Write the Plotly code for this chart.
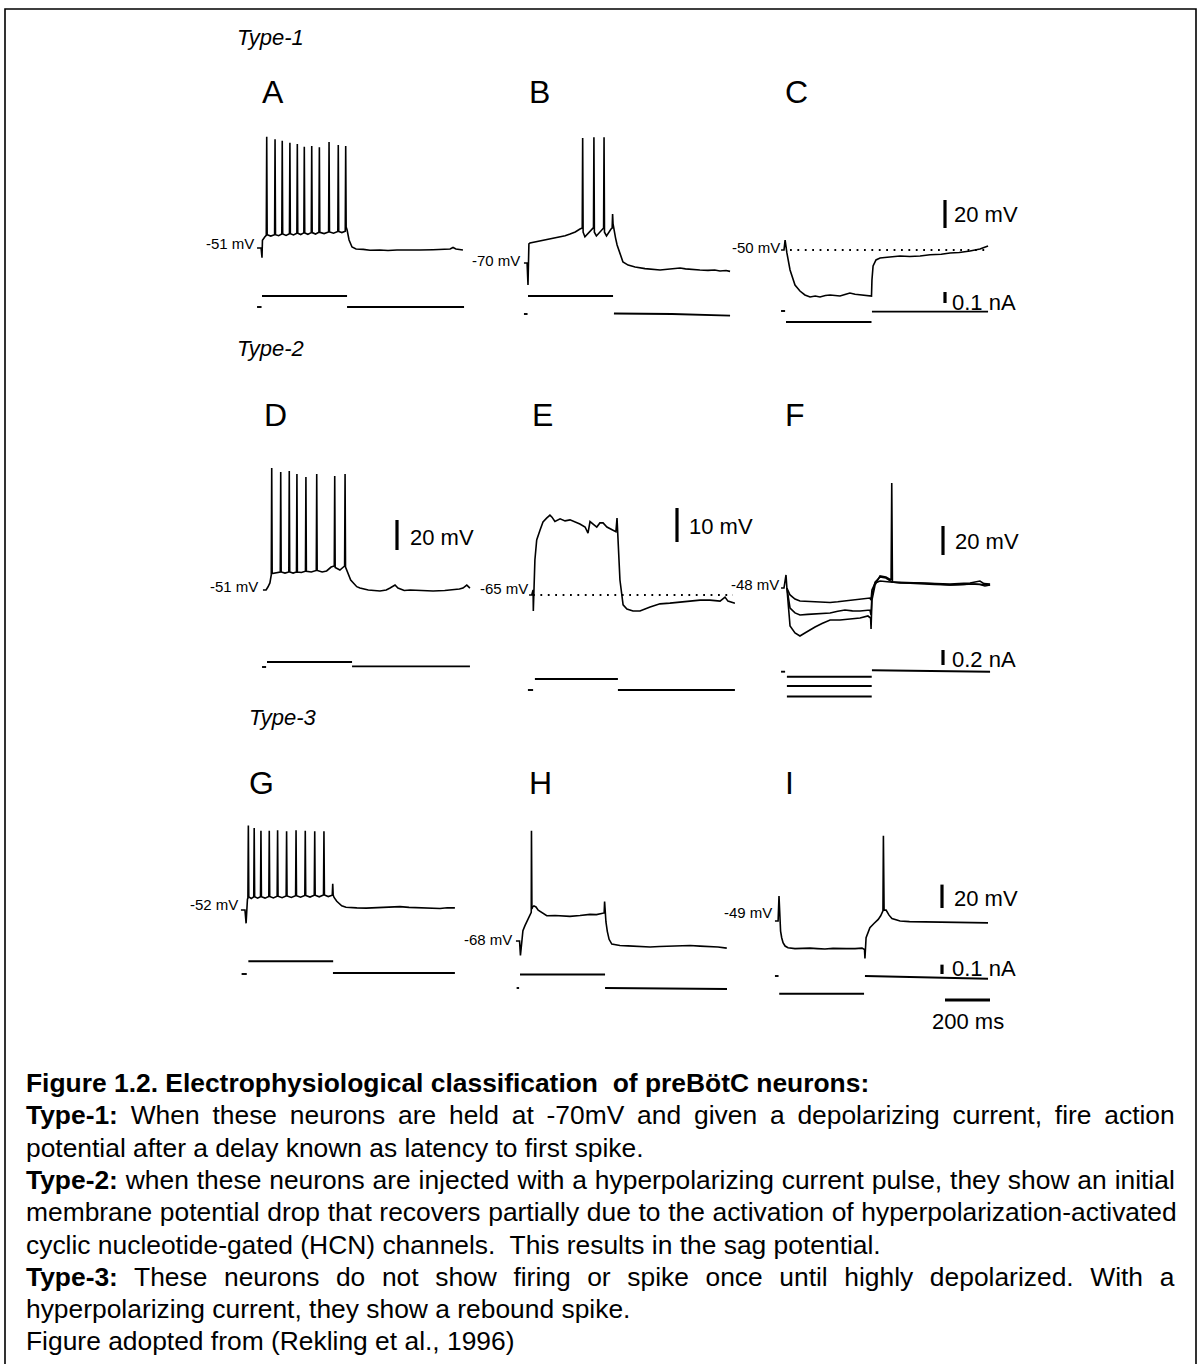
import plotly.graph_objects as go

W, H = 1198, 1364

# ---------------- data (time in ms, membrane potential in mV, current in nA) ----------------
A_trace = [(-22,-51),(-4,-51),(0,-58),(2,-45.5),(13,-43),
 (19,-42),(21,28.5),(23,-41.5),(39,-42.5),
 (56,-41.5),(58,26.6),(60,-41.5),(74,-42.2),
 (88,-41),(90,25.6),(92,-41),(107,-42),
 (122,-40.8),(124,24.2),(126,-40.8),(140,-41.7),
 (155,-40.5),(157,23.3),(159,-40.5),(172,-41.4),
 (186,-40.2),(188,21.4),(190,-40.2),(204,-41.2),
 (219,-40),(221,21.9),(223,-40),(238,-41),
 (253,-39.8),(255,21),(257,-39.8),(276,-40.7),
 (296,-39.5),(298,24.7),(300,-39.5),(318,-40.4),
 (337,-39.2),(339,22.6),(341,-39.2),(355,-40),
 (370,-39),(372,21.9),(374,-36),(378,-38),(387,-45.3),(400,-50.3),(418,-51.7),
 (450,-52),(480,-52.6),(524,-52.4),(560,-52.8),(600,-52.4),(650,-52.6),(702,-52.4),
 (760,-52.2),(800,-52),(836,-51.7),(849,-50.6),(862,-51.7),(893,-52.4)]
A_cur = [(-22,0),(-2,0),None,(0,0.1),(378,0.1),None,(378,0),(898,0)]

B_trace = [(-18,-70),(-4,-70),(0,-85.7),(4,-56.4),(9,-55.7),(31,-55),(55,-54.5),(76,-53.6),(100,-53),
 (120,-52.3),(142,-51.4),(165,-50.5),(187,-49.3),(210,-47.8),(231,-45.7),(241,-45),(243,19.3),(245,-48),
 (253,-51.2),(270,-48),(284,-45.5),(291,-44.7),(293,19.8),(295,-48),(304,-50.7),(320,-47.5),(333,-45.7),
 (336,-45),(338,19.8),(340,-48),(349,-50.7),(360,-47.5),(369,-45.7),(374,-45),(376,-35),(378,-42),
 (382,-47.1),(389,-52),(396,-57.1),(409,-64),(422,-69.3),(445,-71.5),(476,-72.9),(520,-74),(560,-74.3),
 (587,-75),(620,-74.5),(650,-73.8),(676,-73.6),(700,-74.2),(730,-74.8),(764,-75),(800,-75.3),(830,-75),
 (853,-75.7),(880,-75.4),(898,-76)]
B_cur = [(-18,0),(-2,0),None,(0,0.164),(378,0.164),None,(382,0.005),(640,0),(898,-0.015)]

C_trace = [(-22,-50),(-9,-50),(-4,-42.9),(0,-48.6),(4,-52.1),(18,-64.3),(40,-75),(62,-79.3),(84,-82.1),
 (107,-83.6),(130,-82.9),(151,-83.6),(175,-82.5),(196,-82.1),(218,-82.6),(240,-82.9),(262,-81.8),
 (284,-80.7),(307,-81.6),(329,-82.1),(350,-82.5),(373,-83.2),(380,-82.9),(382,-71.4),(387,-61.4),
 (400,-57.1),(418,-55.7),(450,-55.2),(507,-54.3),(550,-54.6),(596,-54.3),(640,-53.4),(690,-53),
 (729,-52.1),(770,-51.8),(818,-50.7),(862,-49.3),(898,-47.1)]
C_cur = [(-22,0),(-4,0),None,(0,-0.1),(380,-0.1),None,(382,-0.006),(898,-0.006)]

D_trace = [(-18,-51),(-4,-51),(4,-49),(13,-46.3),(19,-41),(21,30.3),(23,-40),(41,-39.7),(59,-39),
 (61,27.7),(63,-39),(80,-39.7),(97,-39),(99,28.3),(101,-39),(116,-39.7),(131,-39),(133,26.3),(135,-39),
 (153,-39.3),(171,-38.5),(173,24.3),(175,-38.5),(197,-39),(219,-38),(221,26.3),(223,-38),(245,-39),
 (265,-38.3),(285,-35.7),(299,-35),(301,25),(303,-36),(324,-37.7),(345,-35),(347,26.3),(349,-35.7),
 (372,-44.3),(399,-48.8),(413,-49.7),(450,-51),(502,-51.7),(530,-51),(547,-49.7),(569,-47.7),
 (582,-49.7),(610,-51.3),(636,-51),(680,-51.5),(738,-51.7),(790,-51.3),(827,-51),(855,-50.3),
 (871,-49.7),(888,-47.7),(902,-49.7)]
D_cur = [(-22,0),(-4,0),None,(0,0.045),(378,0.045),None,(378,0.006),(902,0.006)]

E_trace = [(-22,-65),(-10,-65),(-4,-63.5),(-3,-69.7),(4,-54.7),(12,-48.8),(27,-45.9),(40,-43.5),
 (56,-42.4),(71,-41.5),(80,-42.1),(93,-43.4),(116,-42.6),(138,-43.2),(160,-42.9),(182,-43.5),
 (204,-44.1),(227,-45),(240,-46.8),(249,-43.4),(262,-44.1),(279,-45),(293,-43.8),(307,-43.8),
 (324,-45),(347,-45.9),(364,-46.4),(369,-42.4),(373,-48.8),(382,-60.6),(396,-67.9),(413,-69.1),
 (440,-69.7),(471,-69.7),(516,-68.5),(560,-67.6),(604,-67.4),(649,-67.1),(693,-66.8),(738,-66.5),
 (782,-66.5),(827,-66.8),(849,-65.6),(862,-66.8),(893,-67.4)]
E_cur = [(-27,0),(-4,0),None,(4,0.1),(373,0.1),None,(373,0),(893,0)]

F1_trace = [(-22,-48),(-9,-48),(0,-39),(4,-48),(18,-52.8),(40,-55.6),(62,-57),(96,-57.3),(129,-57.7),
 (160,-57.8),(196,-58),(230,-57.5),(262,-57),(295,-56.3),(329,-55.6),(373,-54.9),(378,-56.3),
 (382,-49.4),(396,-44.6),(418,-43.2),(440,-43.5),(462,-43.9),(530,-44.5),(596,-45.2),(660,-45.5),
 (729,-45.9),(790,-45.5),(840,-45.2),(907,-45.9)]
F2_trace = [(4,-48),(18,-61.8),(40,-65.2),(62,-66.6),(96,-66.2),(129,-65.9),(160,-65.5),(196,-65.2),
 (230,-64),(262,-63.2),(295,-63.8),(329,-63.9),(373,-63.2),(378,-66.6),(382,-52.8),(396,-43.9),
 (418,-40.4),(444,-41.1),(471,-43.9),(530,-44.3),(596,-44.6),(660,-44.9),(729,-45.2),(790,-44.8),
 (818,-44.6),(862,-43.2),(880,-45),(907,-45.2)]
F3_trace = [(4,-48),(13,-63.2),(18,-74.2),(40,-79),(62,-81.1),(84,-79),(105,-77),(129,-74.9),
 (160,-72.5),(196,-70.1),(240,-70.1),(284,-69.4),(329,-68.7),(364,-67.3),(376,-68.7),(378,-76.3),
 (382,-56.3),(396,-45.9),(418,-39.7),(444,-40.4),(467,-42.5),(470,24.4),(473,-43.9),(507,-44.6),
 (560,-44.4),(596,-44.6),(660,-45.1),(729,-45.9),(790,-45.5),(818,-45.2),(862,-45.6),(884,-46.6),
 (907,-45.9)]
F_cur = [(-22,0),(-4,0),None,(4,-0.067),(381,-0.067),None,(4,-0.19),(381,-0.19),None,
 (4,-0.33),(381,-0.33),None,(382,0.02),(907,0)]

G_trace = [(-27,-52),(-9,-52),(-4,-64.1),(-2,-47.7),(2,-42),(4,-41.5),(6,24.9),(8,-40),(19,-41.5),
 (30,-40),(32,22.5),(34,-40),(47,-41.3),(60,-40),(62,20.1),(64,-40),(80,-41.2),(97,-39.7),(99,20.1),
 (101,-39.7),(117,-41),(134,-39.5),(136,20.6),(138,-39.5),(156,-40.8),(174,-39.3),(176,19.6),
 (178,-39.3),(197,-40.6),(216,-39),(218,20.6),(220,-39),(238,-40.4),(257,-38.8),(259,20.1),
 (261,-38.8),(280,-40.2),(299,-38.6),(301,19.6),(303,-38.6),(321,-40),(340,-38.4),(342,19.6),
 (344,-38.4),(361,-39.8),(379,-38.5),(381,-28.2),(383,-38.5),(387,-40.6),(399,-44.1),(410,-46.5),
 (421,-48.2),(440,-49.5),(458,-49.9),(488,-50.1),(530,-50.3),(560,-50),(591,-50.2),(630,-49.6),
 (660,-49.2),(680,-48.9),(720,-49.6),(769,-49.9),(810,-50.2),(858,-50.6),(890,-50),(924,-50.1)]
G_cur = [(-24,0),(-1,0),None,(6,0.136),(383,0.136),None,(382,0.01),(924,0.01)]

H_trace = [(-18,-68),(-2,-68),(2,-80.1),(8,-64.4),(13,-59.4),(22,-55.1),(36,-50.1),(47,-45.9),
 (50,-44),(51,24.6),(53,-41),(56,-39.4),(62,-38.5),(71,-39.4),(81,-42.1),(98,-44.4),(119,-46.8),
 (156,-46.6),(190,-47),(222,-47.3),(267,-46.6),(311,-45.6),(340,-45.8),(356,-45.1),(370,-44.6),
 (374,-44.4),(376,-34.9),(378,-44.4),(382,-52),(388,-59.9),(396,-66.6),(408,-70.6),(444,-71.8),
 (480,-72.1),(511,-72.3),(545,-72.6),(578,-73),(620,-72.6),(667,-72.3),(710,-72.1),(756,-71.8),
 (800,-72.3),(844,-72.6),(880,-73),(919,-74)]
H_cur = [(-15,0),(-4,0),None,(0,0.145),(378,0.145),None,(378,0),(920,-0.01)]

I_trace = [(-18,-49),(-4,-49),(0,-27.6),(3,-49),(7,-57.6),(12,-63.3),(18,-67.6),(27,-70.4),
 (40,-71.9),(71,-72.6),(100,-72.3),(138,-72.2),(170,-72.6),(204,-72.9),(240,-72.4),(271,-72.2),
 (300,-72.6),(338,-72.6),(369,-72.2),(380,-73.3),(382,-81.1),(387,-63.3),(396,-57.6),(404,-54.7),
 (422,-51.1),(441,-47.6),(452,-44.5),(458,-42.4),(462,-40.4),(464,23.9),(467,-39.7),(476,-39.7),
 (489,-44),(502,-46.9),(538,-49),(580,-49.5),(627,-49.7),(670,-50),(716,-50.2),(760,-50.1),
 (804,-50.4),(860,-50.5),(929,-50.6)]
I_cur = [(-18,0),(-2,0),None,(1,-0.19),(378,-0.19),None,(382,0),(929,-0.03)]

PANEL_NAMES = ["A", "B", "C", "D", "E", "F", "G", "H", "I"]
REST_LABELS = ["-51 mV", "-70 mV", "-50 mV", "-51 mV", "-65 mV", "-48 mV", "-52 mV", "-68 mV", "-49 mV"]
TYPE_LABELS = ["Type-1", "Type-2", "Type-3"]

VOLT = {"A": [A_trace], "B": [B_trace], "C": [C_trace], "D": [D_trace], "E": [E_trace],
        "F": [F1_trace, F2_trace, F3_trace], "G": [G_trace], "H": [H_trace], "I": [I_trace]}
CURR = {"A": A_cur, "B": B_cur, "C": C_cur, "D": D_cur, "E": E_cur, "F": F_cur,
        "G": G_cur, "H": H_cur, "I": I_cur}

CAPTION_TITLE = "Figure 1.2. Electrophysiological classification\u00a0 of preBötC neurons:"
CAPTION = [
    ("Type-1:", " When these neurons are held at -70mV and given a depolarizing current, fire action", True),
    ("", "potential after a delay known as latency to first spike.", False),
    ("Type-2:", " when these neurons are injected with a hyperpolarizing current pulse, they show an initial", True),
    ("", "membrane potential drop that recovers partially due to the activation of hyperpolarization-activated", True),
    ("", "cyclic nucleotide-gated (HCN) channels.\u00a0 This results in the sag potential.", False),
    ("Type-3:", " These neurons do not show firing or spike once until highly depolarized. With a", True),
    ("", "hyperpolarizing current, they show a rebound spike.", False),
    ("", "Figure adopted from (Rekling et al., 1996)", False),
]

# ---------------- layout geometry (pixels) ----------------
SX = 0.225  # px per ms (200 ms bar = 45 px)
GEO = {
    "A": dict(x0=262, y0=248, v0=-51, sy=1.4, iy0=307, si=110, yt=100, yb=345),
    "B": dict(x0=528, y0=263, v0=-70, sy=1.4, iy0=314, si=110, yt=100, yb=345),
    "C": dict(x0=786, y0=250, v0=-50, sy=1.4, iy0=311, si=110, yt=100, yb=345),
    "D": dict(x0=267, y0=590, v0=-51, sy=1.5, iy0=667, si=110, yt=430, yb=720),
    "E": dict(x0=534, y0=595, v0=-65, sy=3.4, iy0=690, si=110, yt=430, yb=720),
    "F": dict(x0=786, y0=588, v0=-48, sy=1.45, iy0=671.7, si=75, yt=430, yb=720),
    "G": dict(x0=247, y0=910, v0=-52, sy=1.1, iy0=974, si=93.5, yt=800, yb=1060),
    "H": dict(x0=520, y0=941, v0=-68, sy=1.19, iy0=988, si=93.5, yt=800, yb=1060),
    "I": dict(x0=779, y0=921, v0=-49, sy=1.17, iy0=976, si=93.5, yt=800, yb=1060),
}
LETTER_POS = {"A": (260, 92), "B": (527, 92), "C": (783, 92), "D": (262, 415), "E": (530, 415),
              "F": (783, 415), "G": (247, 783), "H": (527, 783), "I": (783, 783)}
REST_POS = {"A": (256, 243), "B": (522, 260), "C": (782, 247), "D": (260, 586), "E": (530, 588),
            "F": (781, 584), "G": (240, 904), "H": (514, 939), "I": (774, 912)}
TYPE_POS = [(235, 38), (235, 348), (247, 717)]

FONT = "Liberation Sans, Arial, Helvetica, sans-serif"


def px(x):
    return x / W


def py(y):
    return 1 - y / H


def t_of(g, x):
    return (x - g["x0"]) / SX


def v_of(g, y):
    return g["v0"] + (g["y0"] - y) / g["sy"]


def i_of(g, y):
    return (g["iy0"] - y) / g["si"]


def unzip(pairs):
    xs, ys = [], []
    for p in pairs:
        if p is None:
            xs.append(None)
            ys.append(None)
        else:
            xs.append(p[0])
            ys.append(p[1])
    return xs, ys


fig = go.Figure()
layout = {}
axid = {}
for k, name in enumerate(PANEL_NAMES, start=1):
    g = GEO[name]
    xl, xr = g["x0"] - 40, g["x0"] + 240
    sid = "" if k == 1 else str(k)
    cid = str(k + 9)
    axid[name] = (sid, cid)
    layout["xaxis" + sid] = dict(domain=[px(xl), px(xr)], range=[t_of(g, xl), t_of(g, xr)],
                                 anchor="y" + sid, visible=False, fixedrange=True)
    layout["yaxis" + sid] = dict(domain=[py(g["yb"]), py(g["yt"])],
                                 range=[v_of(g, g["yb"]), v_of(g, g["yt"])],
                                 anchor="x" + sid, visible=False, fixedrange=True)
    layout["yaxis" + cid] = dict(overlaying="y" + sid, anchor="x" + sid,
                                 range=[i_of(g, g["yb"]), i_of(g, g["yt"])],
                                 visible=False, fixedrange=True)
    for tr in VOLT[name]:
        xs, ys = unzip(tr)
        fig.add_trace(go.Scatter(x=xs, y=ys, mode="lines", line=dict(color="black", width=1.6),
                                 xaxis="x" + sid, yaxis="y" + sid, hoverinfo="skip", showlegend=False))
    xs, ys = unzip(CURR[name])
    fig.add_trace(go.Scatter(x=xs, y=ys, mode="lines", line=dict(color="black", width=1.9),
                             xaxis="x" + sid, yaxis="y" + cid, hoverinfo="skip", showlegend=False,
                             connectgaps=False))

shapes = []


def vbar_mv(name, x, ybottom, value):
    g = GEO[name]
    sid, _ = axid[name]
    t = t_of(g, x)
    v = v_of(g, ybottom)
    shapes.append(dict(type="line", xref="x" + sid, yref="y" + sid, x0=t, x1=t, y0=v, y1=v + value,
                       line=dict(color="black", width=3.2)))


def vbar_na(name, x, ybottom, value):
    g = GEO[name]
    sid, cid = axid[name]
    t = t_of(g, x)
    i = i_of(g, ybottom)
    shapes.append(dict(type="line", xref="x" + sid, yref="y" + cid, x0=t, x1=t, y0=i, y1=i + value,
                       line=dict(color="black", width=3.2)))


def dotted(name, xa, xb):
    g = GEO[name]
    sid, _ = axid[name]
    shapes.append(dict(type="line", xref="x" + sid, yref="y" + sid, x0=t_of(g, xa), x1=t_of(g, xb),
                       y0=g["v0"], y1=g["v0"], line=dict(color="black", width=1.8, dash="1.8px,5.6px")))


vbar_mv("C", 945, 228, 20)
vbar_na("C", 945, 303, 0.1)
vbar_mv("D", 397, 550, 20)
vbar_mv("E", 677, 542, 10)
vbar_mv("F", 943, 555, 20)
vbar_na("F", 943, 665, 0.2)
vbar_mv("I", 942, 908, 20)
vbar_na("I", 942, 974, 0.1)
gI = GEO["I"]
sidI, cidI = axid["I"]
shapes.append(dict(type="line", xref="x" + sidI, yref="y" + cidI, x0=t_of(gI, 945), x1=t_of(gI, 945) + 200,
                   y0=i_of(gI, 1000), y1=i_of(gI, 1000), line=dict(color="black", width=3)))
dotted("C", 790, 985)
dotted("E", 533, 733)

# figure border
shapes.append(dict(type="rect", xref="paper", yref="paper", x0=px(5), x1=px(1196), y0=py(1400), y1=py(9),
                   line=dict(color="black", width=1.6), fillcolor="rgba(0,0,0,0)"))

ann = []


def text(s, x, y, size, xanchor="left", yanchor="middle"):
    ann.append(dict(text=s, x=px(x), y=py(y), xref="paper", yref="paper", showarrow=False,
                    xanchor=xanchor, yanchor=yanchor, font=dict(family=FONT, size=size, color="black")))


for (lbl, (x, y)) in zip(TYPE_LABELS, TYPE_POS):
    text("<i>" + lbl + "</i>", x, y, 22)
for name in PANEL_NAMES:
    x, y = LETTER_POS[name]
    text(name, x, y, 32)
for name, lbl in zip(PANEL_NAMES, REST_LABELS):
    x, y = REST_POS[name]
    text(lbl, x, y, 15, xanchor="right")

text("20 mV", 952, 215, 22)
text("0.1 nA", 950, 302, 22)
text("20 mV", 408, 537, 22)
text("10 mV", 687, 526, 22)
text("20 mV", 953, 541, 22)
text("0.2 nA", 950, 659, 22)
text("20 mV", 952, 898, 22)
text("0.1 nA", 950, 968, 22)
text("200 ms", 968, 1021, 22, xanchor="center")

# caption with justified lines (Helvetica / Arial advance widths)
REG = {" ": 278, "-": 333, ",": 278, ".": 278, ":": 278, "(": 333, ")": 333, "\u00a0": 278,
       "a": 556, "b": 556, "c": 500, "d": 556, "e": 556, "f": 278, "g": 556, "h": 556, "i": 222,
       "j": 222, "k": 500, "l": 222, "m": 833, "n": 556, "o": 556, "p": 556, "q": 556, "r": 333,
       "s": 500, "t": 278, "u": 556, "v": 500, "w": 722, "x": 500, "y": 500, "z": 500,
       "A": 667, "B": 667, "C": 722, "D": 722, "E": 667, "F": 611, "G": 778, "H": 722, "I": 278,
       "J": 500, "K": 667, "L": 556, "M": 833, "N": 722, "O": 778, "P": 667, "Q": 778, "R": 722,
       "S": 667, "T": 611, "U": 722, "V": 667, "W": 944, "X": 667, "Y": 667, "Z": 611}
BOLD = {"T": 611, "y": 556, "p": 611, "e": 556, "-": 333, ":": 333}


def width_em(s, table):
    return sum(table.get(c, 556) for c in s) / 1000.0


CAP_FS = 26.4
CAP_LEFT, CAP_RIGHT = 24, 1175
CAP_Y0, CAP_DY = 1083, 32.3

text("<b>" + CAPTION_TITLE + "</b>", CAP_LEFT, CAP_Y0, CAP_FS)
for n, (bold, rest, justify) in enumerate(CAPTION, start=1):
    y = CAP_Y0 + n * CAP_DY
    if justify:
        nat = (width_em(bold, BOLD) + width_em(rest, REG)) * CAP_FS
        nsp = rest.count(" ")
        ws = (CAP_RIGHT - CAP_LEFT - nat) / nsp
        body = '<span style="word-spacing:%.2fpx">%s</span>' % (ws, rest)
    else:
        body = rest
    s = ("<b>" + bold + "</b>" if bold else "") + body
    text(s, CAP_LEFT, y, CAP_FS)

layout.update(dict(width=W, height=H, margin=dict(l=0, r=0, t=0, b=0), paper_bgcolor="white",
                   plot_bgcolor="rgba(0,0,0,0)", showlegend=False, shapes=shapes, annotations=ann))
fig.update_layout(**layout)
fig.write_html("out.html", config={"displayModeBar": False, "staticPlot": True})
